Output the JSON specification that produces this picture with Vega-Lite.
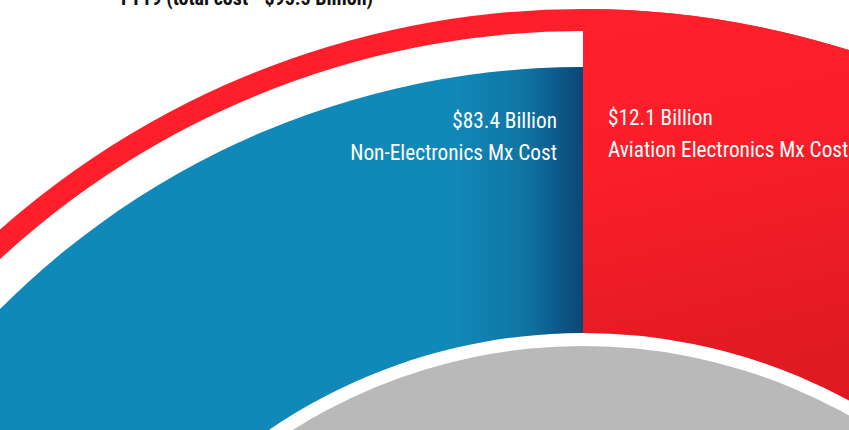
{
  "$schema": "https://vega.github.io/schema/vega-lite/v6.json",
  "width": 849,
  "height": 430,
  "autosize": {"type": "none"},
  "padding": 0,
  "background": "#ffffff",
  "config": {"view": {"stroke": null}},
  "data": {
    "values": [
      {"category": "Aviation Electronics Mx Cost", "value": 12.1},
      {"category": "Non-Electronics Mx Cost", "value": 83.4}
    ]
  },
  "layer": [
    {
      "transform": [{"aggregate": [{"op": "sum", "field": "value", "as": "total"}]}],
      "mark": {"type": "arc", "x": 583, "y": 890, "outerRadius": 881, "innerRadius": 859, "fill": "#fe1f2a"},
      "encoding": {"theta": {"field": "total", "type": "quantitative"}}
    },
    {
      "mark": {
        "type": "arc", "x": 583, "y": 890, "outerRadius": 881, "innerRadius": 557,
        "fill": {"gradient": "linear", "x1": 0, "y1": 0, "x2": 0.3, "y2": 1,
          "stops": [{"offset": 0, "color": "#ff202b"}, {"offset": 0.3, "color": "#fb1e29"}, {"offset": 0.8, "color": "#dd1a22"}]}
      },
      "encoding": {
        "theta": {"field": "value", "type": "quantitative", "stack": true},
        "order": {"field": "category", "sort": "ascending"},
        "detail": {"field": "category"},
        "opacity": {"condition": {"test": "datum.category === 'Aviation Electronics Mx Cost'", "value": 1}, "value": 0}
      }
    },
    {
      "mark": {
        "type": "arc", "x": 583, "y": 890, "outerRadius": 823, "innerRadius": 557,
        "fill": {"gradient": "linear", "x1": 0, "y1": 0, "x2": 1, "y2": 0,
          "stops": [{"offset": 0, "color": "#1189b8"}, {"offset": 0.42, "color": "#1189b8"}, {"offset": 0.465, "color": "#0f74a3"}, {"offset": 0.5, "color": "#0a4676"}, {"offset": 1, "color": "#0a4676"}]}
      },
      "encoding": {
        "theta": {"field": "value", "type": "quantitative", "stack": true},
        "order": {"field": "category", "sort": "ascending"},
        "detail": {"field": "category"},
        "opacity": {"condition": {"test": "datum.category === 'Non-Electronics Mx Cost'", "value": 1}, "value": 0}
      }
    },
    {
      "transform": [{"aggregate": [{"op": "sum", "field": "value", "as": "total"}]}],
      "mark": {"type": "arc", "x": 583, "y": 890, "outerRadius": 544, "innerRadius": 0, "fill": "#b9b9b9"},
      "encoding": {"theta": {"field": "total", "type": "quantitative"}}
    },
    {
      "transform": [
        {"filter": "datum.category === 'Non-Electronics Mx Cost'"},
        {"calculate": "['$' + format(datum.value, '.1f') + ' Billion', datum.category]", "as": "label"}
      ],
      "mark": {"type": "text", "x": 557, "y": 128, "align": "right", "baseline": "alphabetic", "font": "Roboto Condensed, DejaVu Sans Condensed, sans-serif", "fontSize": 21.3, "lineHeight": 32, "color": "#ffffff"},
      "encoding": {"text": {"field": "label"}}
    },
    {
      "transform": [
        {"filter": "datum.category === 'Aviation Electronics Mx Cost'"},
        {"calculate": "['$' + format(datum.value, '.1f') + ' Billion', datum.category]", "as": "label"}
      ],
      "mark": {"type": "text", "x": 608, "y": 125, "align": "left", "baseline": "alphabetic", "font": "Roboto Condensed, DejaVu Sans Condensed, sans-serif", "fontSize": 21.3, "lineHeight": 32, "color": "#ffffff"},
      "encoding": {"text": {"field": "label"}}
    },
    {
      "transform": [{"aggregate": [{"op": "sum", "field": "value", "as": "total"}]}],
      "mark": {"type": "rule", "x": 104, "y": 0, "y2": 160, "strokeWidth": 9, "color": "#fe1f2a"},
      "encoding": {}
    },
    {
      "transform": [
        {"aggregate": [{"op": "sum", "field": "value", "as": "total"}]},
        {"calculate": "'FY19 (total cost - $' + format(datum.total, '.1f') + ' Billion)'", "as": "title"}
      ],
      "mark": {"type": "text", "x": 121, "y": 5, "align": "left", "baseline": "alphabetic", "font": "Roboto Condensed, DejaVu Sans Condensed, sans-serif", "fontSize": 20, "fontWeight": "bold", "color": "#111111"},
      "encoding": {"text": {"field": "title"}}
    }
  ]
}
